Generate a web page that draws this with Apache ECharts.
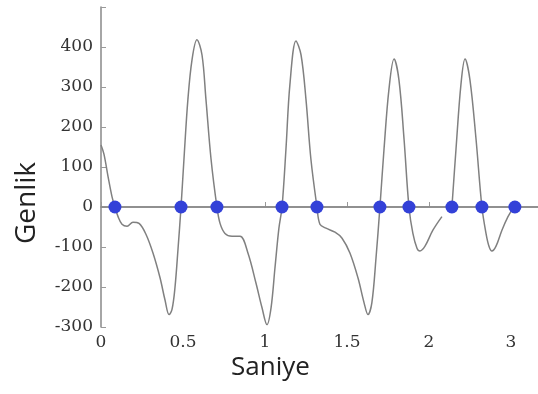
<!DOCTYPE html>
<html>
<head>
<meta charset="utf-8">
<script src="https://cdn.jsdelivr.net/npm/echarts@6/dist/echarts.min.js"></script>
<style>
  html, body { margin: 0; padding: 0; background: #fff; }
  #chart { width: 538px; height: 394px; }
</style>
</head>
<body>
<div id="chart"></div>
<script>
// waveform samples (seconds, amplitude); null marks the gap in the trace
var curveT = [0, 0.018, 0.043, 0.067, 0.085, 0.104, 0.128, 0.159, 0.195, 0.232, 0.274, 0.317, 0.360, 0.390, 0.415, 0.433, 0.451, 0.470, 0.488,
  0.506, 0.530, 0.555, 0.585, 0.616, 0.640, 0.671, 0.707, 0.726, 0.756, 0.799, 0.848, 0.896, 0.945, 0.982, 1.012, 1.037, 1.061, 1.085, 1.104,
  1.128, 1.152, 1.189, 1.220, 1.250, 1.280, 1.317, 1.335, 1.372, 1.427, 1.470, 1.518, 1.567, 1.604, 1.628, 1.652, 1.677, 1.701,
  1.726, 1.756, 1.787, 1.817, 1.848, 1.878, 1.902, 1.927, 1.945, 1.976, 2.024, 2.079, null,
  2.140, 2.165, 2.195, 2.220, 2.250, 2.287, 2.323, 2.348, 2.366, 2.384, 2.409, 2.445, 2.482, 2.515];
var curveA = [155, 132, 76, 26, 0, -24, -43, -48, -38, -41, -68, -115, -177, -232, -269, -256, -202, -103, 0,
  120, 269, 368, 418, 380, 269, 120, 0, -41, -66, -73, -73, -115, -190, -252, -294, -252, -152, -53, 0,
  145, 306, 415, 380, 269, 120, 0, -43, -53, -63, -78, -115, -177, -239, -269, -239, -128, 0,
  145, 294, 370, 318, 170, 0, -66, -103, -110, -98, -58, -24, null,
  0, 145, 306, 370, 318, 170, 0, -66, -98, -110, -98, -58, -24, -2];

// zero crossings marked with dots
var crossT = [0.085, 0.488, 0.707, 1.104, 1.317, 1.701, 1.878, 2.140, 2.323, 2.524];

var xTickLabels = { '0': '0', '0.5': '0.5', '1': '1', '1.5': '1.5', '2': '2', '2.5': '3' };
var yTickValues = [-300, -200, -100, 0, 100, 200, 300, 400];

var chart = echarts.init(document.getElementById('chart'));

var segments = [[]];
for (var i = 0; i < curveT.length; i++) {
  if (curveT[i] === null) { segments.push([]); continue; }
  segments[segments.length - 1].push([curveT[i], curveA[i]]);
}

var series = segments.map(function (seg) {
  return {
    type: 'line',
    data: seg,
    smooth: 0.35,
    showSymbol: false,
    symbol: 'none',
    lineStyle: { color: '#808080', width: 1.5 },
    silent: true,
    z: 2
  };
});

series.push({
  type: 'scatter',
  data: crossT.map(function (t) { return [t, 0]; }),
  symbolSize: 13,
  itemStyle: { color: '#3341d8', opacity: 1 },
  z: 3,
  markLine: {
    silent: true,
    symbol: 'none',
    label: { show: false },
    lineStyle: { color: '#8a8a8a', width: 1.5, type: 'solid' },
    data: [{ yAxis: 0 }],
    z: 1
  }
});

var axisFont = { fontFamily: 'DejaVu Serif', fontSize: 17, color: '#333' };

var option = {
  animation: false,
  backgroundColor: '#fff',
  grid: { left: 101, right: 0, top: 7, bottom: 67 },
  xAxis: {
    type: 'value',
    min: 0,
    max: 2.665,
    interval: 0.5,
    splitLine: { show: false },
    axisLine: { lineStyle: { color: '#888', width: 1.5 } },
    axisTick: { inside: true, length: 5, lineStyle: { color: '#999' } },
    axisLabel: Object.assign({
      margin: 7,
      showMaxLabel: false,
      formatter: function (v) {
        var k = String(Math.round(v * 10) / 10);
        return xTickLabels[k] !== undefined ? xTickLabels[k] : '';
      }
    }, axisFont)
  },
  yAxis: {
    type: 'value',
    min: -300,
    max: 500,
    interval: 100,
    splitLine: { show: false },
    axisLine: { onZero: false, lineStyle: { color: '#888', width: 1.5 } },
    axisTick: { inside: true, length: 5, lineStyle: { color: '#999' } },
    axisLabel: Object.assign({
      margin: 8,
      formatter: function (v) {
        return yTickValues.indexOf(v) >= 0 ? String(v) : '';
      }
    }, axisFont)
  },
  graphic: [
    {
      type: 'text',
      left: 13,
      top: 162,
      rotation: Math.PI / 2,
      style: { text: 'Genlik', font: '28px "Open Sans"', fill: '#222' }
    },
    {
      type: 'text',
      left: 231,
      top: 355,
      style: { text: 'Saniye', font: '26px "Open Sans"', fill: '#222' }
    }
  ],
  series: series
};

chart.setOption(option);
</script>
</body>
</html>
